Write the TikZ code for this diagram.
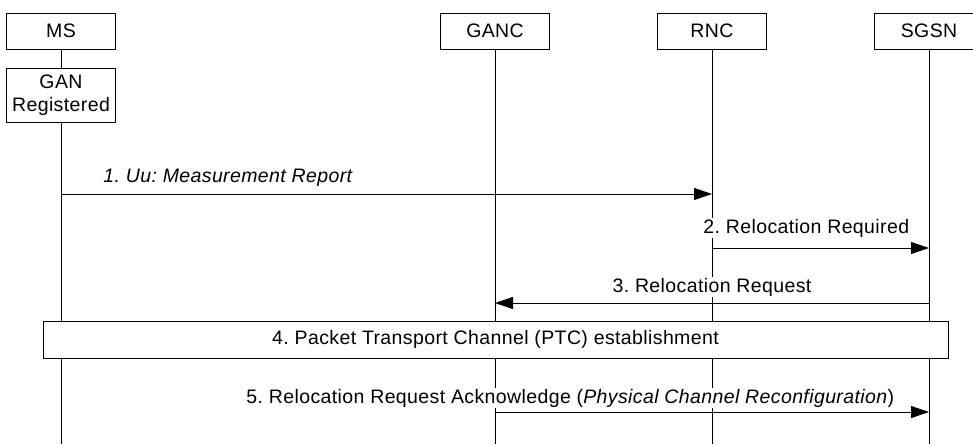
\documentclass[tikz,border=0pt]{standalone}
\usepackage{fontspec}
\setmainfont[LetterSpace=2]{Liberation Sans}
\usepackage{tikz}
\usetikzlibrary{arrows.meta, positioning}

\begin{document}
\frenchspacing
\begin{tikzpicture}[
      x=1pt, y=-1pt,
      line width=0.8pt,
      font=\fontsize{19.5}{23}\selectfont,
      head/.style={rectangle, draw, fill=white, minimum width=109pt,
                   minimum height=36pt, inner sep=0pt},
      state/.style={rectangle, draw, fill=white, minimum width=109pt,
                    minimum height=54pt, inner sep=0pt, align=center},
      phase/.style={rectangle, draw, fill=white, minimum width=905pt,
                    minimum height=37pt, inner sep=0pt},
      msg/.style={draw, -{Triangle[length=18pt, width=12pt]}},
      lbl/.style={inner sep=1pt, fill=white, anchor=base}
  ]
      \useasboundingbox (0,0) rectangle (973,444);

      % entities
      \node (ms)   [head] at (61,31)  {MS};
      \node (ganc) [head] at (495,31) {GANC};
      \node (rnc)  [head] at (712,31) {RNC};
      \node (sgsn) [head] at (929,31) {SGSN};
      \node (reg)  [state] at (61,95) {GAN\\Registered};

      \coordinate (bottom) at (0,444);

      % lifelines
      \draw (ms.south) -- (reg.north);
      \draw (reg.south) -- (reg.south |- bottom);
      \draw (ganc.south) -- (ganc.south |- bottom);
      \draw (rnc.south) -- (rnc.south |- bottom);
      \draw (sgsn.south) -- (sgsn.south |- bottom);

      % messages
      \path [msg] (ms |- 0,194) -- (rnc |- 0,194);
      \node [lbl, anchor=base west] at (102,182)
          {\itshape 1. Uu: Measurement Report};

      \path [msg] (rnc |- 0,248) -- (sgsn |- 0,248);
      \node [lbl, anchor=base west] at (702,233) {2. Relocation Required};

      \path [msg] (sgsn |- 0,303) -- (ganc |- 0,303);
      \node [lbl] at (712,292) {3. Relocation Request};

      \node (ptc) [phase] at (495.5,339.5)
          {4. Packet Transport Channel (PTC) establishment};

      \path [msg] (ganc |- 0,412) -- (sgsn |- 0,412);
      \node [lbl, anchor=base west] at (245,403)
          {5. Relocation Request Acknowledge (\textit{Physical Channel Reconfiguration})};
  \end{tikzpicture}
\end{document}
